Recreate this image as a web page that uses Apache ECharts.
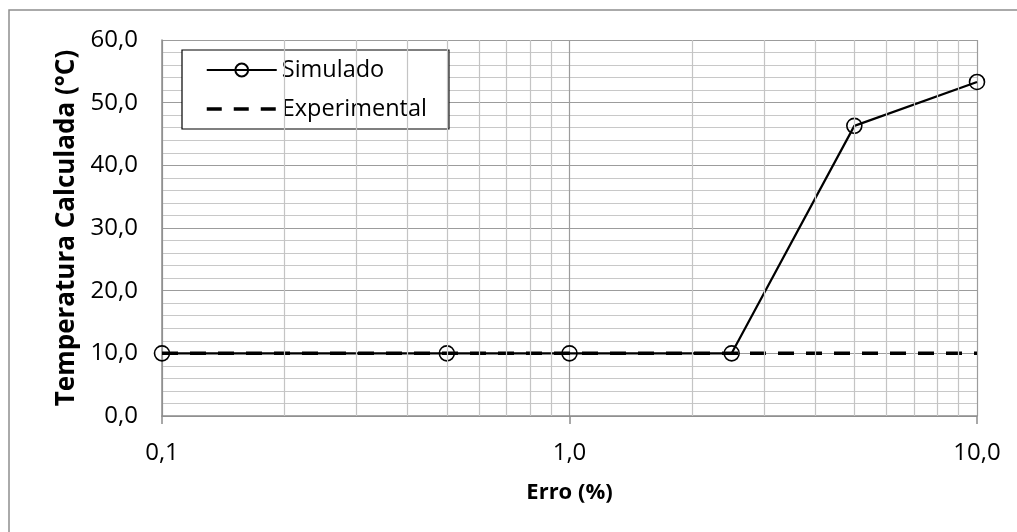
<!DOCTYPE html>
<html>
<head>
<meta charset="utf-8">
<script src="https://cdn.jsdelivr.net/npm/echarts@6/dist/echarts.min.js"></script>
<style>
  html, body { margin: 0; padding: 0; background: #fff; }
  #chart { width: 1017px; height: 532px; }
</style>
</head>
<body>
<div id="chart"></div>
<script>
// Error levels (%) on a log axis and the computed temperatures (°C)
const erro = [0.1, 0.5, 1.0, 2.5, 5.0, 10.0];
const simulado = [10.0, 10.0, 10.0, 10.0, 46.3, 53.3];
const experimental = [10.0, 10.0, 10.0, 10.0, 10.0, 10.0];
// intermediate decade lines of the log grid
const minorDecades = [0.2, 0.3, 0.4, 0.5, 0.6, 0.7, 0.8, 0.9, 2, 3, 4, 5, 6, 7, 8, 9];

const FONT = '"Open Sans", "Noto Sans", sans-serif';
const fmt = v => Number(v).toFixed(1).replace('.', ',');

const chart = echarts.init(document.getElementById('chart'), null, { renderer: 'canvas' });

chart.setOption({
  backgroundColor: '#ffffff',
  animation: false,
  textStyle: { fontFamily: FONT },
  graphic: [{
    type: 'rect',
    shape: { x: 9, y: 10, width: 1200, height: 700 },
    style: { fill: 'none', stroke: '#8e8e8e', lineWidth: 1.5 },
    silent: true,
    z: 0
  }],
  grid: { left: 162, right: 40, top: 40, bottom: 116, containLabel: false },
  legend: {
    data: [
      { name: 'Simulado' },
      { name: 'Experimental', lineStyle: { width: 3.5, type: [15, 12], color: '#000' } }
    ],
    orient: 'vertical',
    left: 182,
    top: 50,
    padding: [6, 22, 6, 23],
    itemGap: 11,
    itemWidth: 70,
    itemHeight: 16,
    backgroundColor: '#ffffff',
    borderColor: '#000000',
    borderWidth: 1.2,
    borderRadius: 0,
    textStyle: { fontFamily: FONT, fontSize: 23.5, color: '#000', lineHeight: 28 }
  },
  xAxis: {
    type: 'log',
    logBase: 10,
    min: 0.1,
    max: 10,
    name: 'Erro (%)',
    nameLocation: 'middle',
    nameGap: 66,
    nameTextStyle: { fontFamily: FONT, fontSize: 22, fontWeight: 'bold', color: '#000' },
    axisLine: { show: true, lineStyle: { color: '#8c8c8c', width: 1.5 } },
    axisTick: { show: true, inside: false, length: 8, lineStyle: { color: '#8c8c8c', width: 1.5 } },
    axisLabel: { fontFamily: FONT, fontSize: 24, color: '#000', margin: 25, formatter: fmt },
    splitLine: { show: true, lineStyle: { color: '#9c9c9c', width: 1.2 } }
  },
  yAxis: {
    type: 'value',
    min: 0,
    max: 60,
    interval: 10,
    name: 'Temperatura Calculada (°C)',
    nameLocation: 'middle',
    nameGap: 82,
    nameTextStyle: { fontFamily: FONT, fontSize: 26, fontWeight: 'bold', color: '#000' },
    axisLine: { show: true, lineStyle: { color: '#8c8c8c', width: 1.5 } },
    axisTick: { show: false },
    axisLabel: { fontFamily: FONT, fontSize: 24, color: '#000', margin: 24, formatter: fmt },
    splitLine: { show: true, lineStyle: { color: '#9c9c9c', width: 1.2 } },
    minorTick: { show: false, splitNumber: 5 },
    minorSplitLine: { show: true, lineStyle: { color: '#c8c8c8', width: 1.2 } }
  },
  series: [
    {
      name: 'grade',
      type: 'line',
      data: [],
      silent: true,
      z: 1,
      markLine: {
        silent: true,
        symbol: ['none', 'none'],
        label: { show: false },
        lineStyle: { color: '#c4c4c4', width: 1.2, type: 'solid' },
        emphasis: { disabled: true },
        data: minorDecades.map(v => ({ xAxis: v }))
      }
    },
    {
      name: 'Simulado',
      type: 'line',
      data: erro.map((x, i) => [x, simulado[i]]),
      clip: false,
      z: 3,
      symbol: 'circle',
      symbolSize: 15,
      lineStyle: { color: '#000', width: 2.2 },
      itemStyle: { color: 'rgba(255,255,255,0)', borderColor: '#000', borderWidth: 1.6 },
      emphasis: { disabled: true }
    },
    {
      name: 'Experimental',
      type: 'line',
      data: erro.map((x, i) => [x, experimental[i]]),
      clip: false,
      z: 4,
      symbol: 'none',
      lineStyle: { color: '#000', width: 3.5, type: [16, 12] },
      itemStyle: { color: 'rgba(0,0,0,0)', borderWidth: 0 },
      emphasis: { disabled: true }
    }
  ]
});
</script>
</body>
</html>
